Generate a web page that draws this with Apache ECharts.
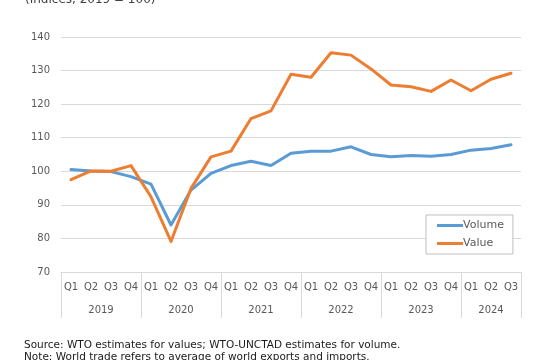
<!DOCTYPE html>
<html>
<head>
<meta charset="utf-8">
<script src="https://cdn.jsdelivr.net/npm/echarts@6/dist/echarts.min.js"></script>
<style>
html,body{margin:0;padding:0;background:#fff;}
#chart{width:555px;height:360px;}
</style>
</head>
<body>
<div id="chart"></div>
<script>
const quarters = ['Q1','Q2','Q3','Q4','Q1','Q2','Q3','Q4','Q1','Q2','Q3','Q4','Q1','Q2','Q3','Q4','Q1','Q2','Q3','Q4','Q1','Q2','Q3'];
const years = ['2019','2020','2021','2022','2023','2024'];
const quartersPerYear = [4,4,4,4,4,3];
const volume = [100.5,100.1,99.9,98.4,96.2,84.0,94.4,99.4,101.7,103.0,101.7,105.4,106.0,106.0,107.3,105.0,104.3,104.7,104.5,105.0,106.3,106.8,107.9];
const value = [97.5,100.1,100.0,101.7,92.4,79.1,94.9,104.3,106.0,115.7,118.0,128.9,128.0,135.3,134.6,130.5,125.7,125.2,123.8,127.2,124.0,127.4,129.2];
const yTicks = {min:70, max:140, interval:10};

// Year axis: 2n+1 points at half-quarter steps (boundaryGap false)
const n = quarters.length;
const yearAxisData = [];
for (let k = 0; k <= 2*n; k++) yearAxisData.push('p' + k);
const yearLabelAt = {};
const boundaryAt = {};
let start = 0;
years.forEach((y, i) => {
  boundaryAt[start*2] = true;
  yearLabelAt[start*2 + quartersPerYear[i]] = y;
  start += quartersPerYear[i];
});
boundaryAt[start*2] = true;

const FONT = 'DejaVu Sans';
const chart = echarts.init(document.getElementById('chart'), null, {renderer:'canvas'});
chart.setOption({
  animation: false,
  backgroundColor: '#ffffff',
  title: [
    {text: '(Indices, 2019 = 100)', left: 25, top: -6, padding: 0,
     textStyle: {fontFamily: FONT, fontSize: 12, fontWeight: 'normal', color: '#404040'}},
    {text: 'Source: WTO estimates for values; WTO-UNCTAD estimates for volume.\nNote: World trade refers to average of world exports and imports.',
     left: 24, top: 339, padding: 0,
     textStyle: {fontFamily: FONT, fontSize: 10.5, fontWeight: 'normal', color: '#1a1a1a', lineHeight: 12}}
  ],
  grid: {left: 61, right: 34, top: 37, bottom: 88, containLabel: false},
  legend: {
    orient: 'vertical', left: 426, top: 215,
    padding: [5, 9, 5, 11], itemGap: 7,
    backgroundColor: '#ffffff', borderColor: '#bfbfbf', borderWidth: 1,
    itemWidth: 26, itemHeight: 3, icon: 'rect',
    textStyle: {fontFamily: FONT, fontSize: 11, color: '#595959', padding: [0,0,0,-5]},
    data: ['Volume', 'Value']
  },
  xAxis: [
    {type: 'category', data: quarters, boundaryGap: true, position: 'bottom',
     axisLine: {show: true, lineStyle: {color: '#d9d9d9', width: 1}},
     axisTick: {show: false},
     axisLabel: {interval: 0, margin: 10, fontFamily: FONT, fontSize: 10, color: '#595959'}},
    {type: 'category', data: yearAxisData, boundaryGap: false, position: 'bottom',
     axisLine: {show: false},
     axisTick: {show: true, length: 46, interval: (idx) => !!boundaryAt[idx],
                lineStyle: {color: '#d9d9d9', width: 1}},
     axisLabel: {interval: (idx) => yearLabelAt[idx] !== undefined,
                 formatter: (v, idx) => yearLabelAt[idx] || '',
                 margin: 33, fontFamily: FONT, fontSize: 10, color: '#595959'},
     splitLine: {show: false}}
  ],
  yAxis: {
    type: 'value', min: yTicks.min, max: yTicks.max, interval: yTicks.interval,
    axisLine: {show: false}, axisTick: {show: false},
    axisLabel: {margin: 11, fontFamily: FONT, fontSize: 10, color: '#595959'},
    splitLine: {show: true, lineStyle: {color: '#d9d9d9', width: 1}}
  },
  series: [
    {name: 'Volume', type: 'line', xAxisIndex: 0, data: volume, showSymbol: false, symbol: 'none',
     lineStyle: {width: 3, color: '#5B9BD5', cap: 'round', join: 'round'}, itemStyle: {color: '#5B9BD5'}},
    {name: 'Value', type: 'line', xAxisIndex: 0, data: value, showSymbol: false, symbol: 'none',
     lineStyle: {width: 3, color: '#ED7D31', cap: 'round', join: 'round'}, itemStyle: {color: '#ED7D31'}}
  ]
});
</script>
</body>
</html>
